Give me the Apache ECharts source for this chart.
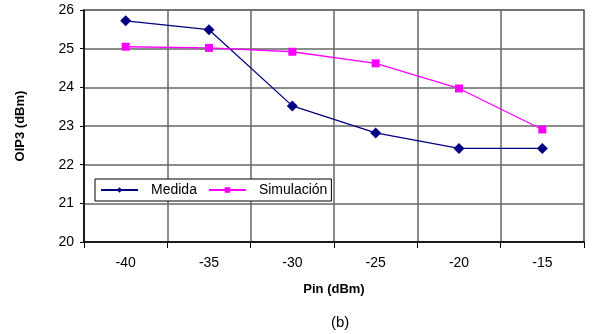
<!DOCTYPE html>
<html><head><meta charset="utf-8">
<script src="https://cdn.jsdelivr.net/npm/echarts@6/dist/echarts.min.js"></script>
<style>html,body{margin:0;padding:0;background:#fff}#c{width:592px;height:334px}</style>
</head><body><div id="c"></div>
<script>
const categories = ['-40', '-35', '-30', '-25', '-20', '-15'];
const medida = [25.72, 25.49, 23.52, 22.82, 22.42, 22.42];
const simulacion = [25.05, 25.02, 24.92, 24.62, 23.97, 22.91];
const yTicks = [20, 21, 22, 23, 24, 25, 26];

const chart = echarts.init(document.getElementById('c'));
const font = 'Liberation Sans, Arial, sans-serif';
chart.setOption({
  animation: false,
  backgroundColor: '#fff',
  grid: {left: 84, right: 8, top: 10, bottom: 92, show: true, borderColor: '#808080', borderWidth: 1.5},
  title: {text: '(b)', left: 326, top: 310, textStyle: {fontFamily: font, fontSize: 15, fontWeight: 'normal', color: '#000'}},
  legend: {
    left: 95, top: 179, orient: 'horizontal',
    backgroundColor: '#fff', borderColor: '#000', borderWidth: 1, borderRadius: 0,
    padding: [4, 4, 4, 5], itemGap: 11, itemWidth: 37, itemHeight: 7,
    textStyle: {fontFamily: font, fontSize: 14, color: '#000', padding: [0, 0, 0, 8]},
    data: [{name: 'Medida'}, {name: 'Simulación'}]
  },
  xAxis: {
    type: 'category', data: categories, boundaryGap: true,
    name: 'Pin (dBm)', nameLocation: 'middle', nameGap: 41,
    nameTextStyle: {fontFamily: font, fontSize: 13, fontWeight: 'bold', color: '#000'},
    axisLine: {lineStyle: {color: '#000', width: 1.5}},
    axisTick: {show: true, length: 6, lineStyle: {color: '#000'}, alignWithLabel: false, interval: 0},
    axisLabel: {fontFamily: font, fontSize: 14, color: '#000', margin: 14, interval: 0},
    splitLine: {show: true, interval: 0, lineStyle: {color: '#666', width: 1.5}}
  },
  yAxis: {
    type: 'value', min: 20, max: 26, interval: 1,
    name: 'OIP3 (dBm)', nameLocation: 'middle', nameGap: 57, nameRotate: 90,
    nameTextStyle: {fontFamily: font, fontSize: 13, fontWeight: 'bold', color: '#000'},
    axisLine: {show: true, lineStyle: {color: '#000', width: 1.5}},
    axisTick: {show: true, length: 4, lineStyle: {color: '#000'}},
    axisLabel: {fontFamily: font, fontSize: 14, color: '#000', margin: 10,
      formatter: v => yTicks.includes(v) ? String(v) : ''},
    splitLine: {show: true, lineStyle: {color: '#666', width: 1.5}}
  },
  series: [
    {name: 'Medida', type: 'line', data: medida, color: '#000080',
      symbol: 'diamond', symbolSize: 11, lineStyle: {width: 1.3, color: '#000080'},
      itemStyle: {color: '#000080'}},
    {name: 'Simulación', type: 'line', data: simulacion, color: '#FF00FF',
      symbol: 'rect', symbolSize: 8, lineStyle: {width: 1.3, color: '#FF00FF'},
      itemStyle: {color: '#FF00FF'}}
  ]
});
</script></body></html>
